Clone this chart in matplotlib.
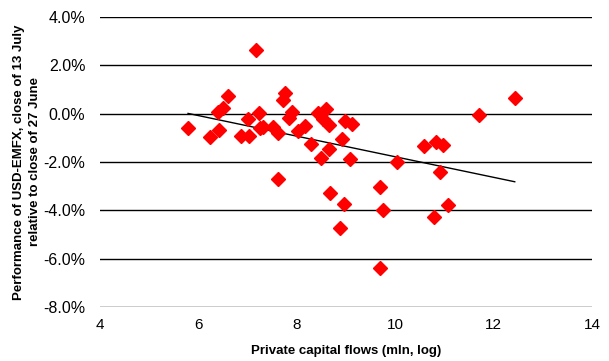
import numpy as np
import matplotlib
matplotlib.use('Agg')
import matplotlib.pyplot as plt
from matplotlib.ticker import FuncFormatter

plt.rcParams['font.family'] = ['Liberation Sans', 'DejaVu Sans']

# private capital flows (mln, log)
flows = [5.79, 6.24, 6.40, 6.50, 6.61, 6.42, 7.01, 6.87, 7.03, 7.17,
         7.23, 7.25, 7.31, 7.52, 7.62, 7.76, 7.72, 7.90, 7.84, 8.02,
         8.17, 8.29, 8.43, 8.60, 8.54, 8.66, 8.98, 9.12, 8.92, 8.65,
         8.49, 9.08, 7.62, 10.04, 10.59, 10.83, 10.97, 10.91, 8.67, 8.96,
         9.69, 9.75, 8.88, 10.79, 11.07, 9.69, 12.43, 11.70]

# USD-EMFX performance, 13 July vs 27 June (%)
perf = [-0.59, -0.97, 0.07, 0.24, 0.73, -0.68, -0.22, -0.92, -0.92, 2.62,
        0.03, -0.58, -0.55, -0.55, -0.80, 0.86, 0.57, 0.07, -0.18, -0.72,
        -0.51, -1.25, 0.03, 0.19, -0.22, -0.47, -0.31, -0.43, -1.05, -1.46,
        -1.83, -1.87, -2.71, -1.98, -1.34, -1.18, -1.30, -2.42, -3.29, -3.74,
        -3.03, -3.98, -4.73, -4.27, -3.79, -6.38, 0.64, -0.05]

x_ticks = [4, 6, 8, 10, 12, 14]
y_ticks = [-8, -6, -4, -2, 0, 2, 4]

x = np.array(flows)
y = np.array(perf)

fig = plt.figure(figsize=(6.09, 3.61), dpi=100)
ax = fig.add_axes([100 / 609, 1 - 307 / 361, 492 / 609, 290 / 361])

# linear trend over the data range
k, b = np.polyfit(x, y, 1)
xs = np.array([x.min(), x.max()])
ax.plot(xs, k * xs + b, color='black', lw=1.0, zorder=3)

ax.plot(x, y, 'D', color='#ff0000', ms=7.5, mec='#ff0000', zorder=4)

ax.set_xlim(4, 14)
ax.set_ylim(-8, 4)
ax.set_xticks(x_ticks)
ax.set_yticks(y_ticks)
ax.yaxis.set_major_formatter(FuncFormatter(lambda v, p: '%.1f%%' % v))
ax.grid(axis='y', color='black', lw=1.0)
ax.set_axisbelow(True)
for s in ax.spines.values():
    s.set_visible(False)
ax.tick_params(length=0, labelsize=11)
ax.tick_params(axis='y', labelsize=11.5, pad=10.5)
ax.tick_params(axis='x', pad=8)

ax.set_xlabel('Private capital flows (mln, log)', fontsize=9.5,
              fontweight='bold', labelpad=9)
ax.set_ylabel('Performance of USD-EMFX, close of 13 July\nrelative to close of 27 June',
              fontsize=9.5, fontweight='bold', labelpad=2, linespacing=1.35)

fig.savefig('out.png', dpi=100)
